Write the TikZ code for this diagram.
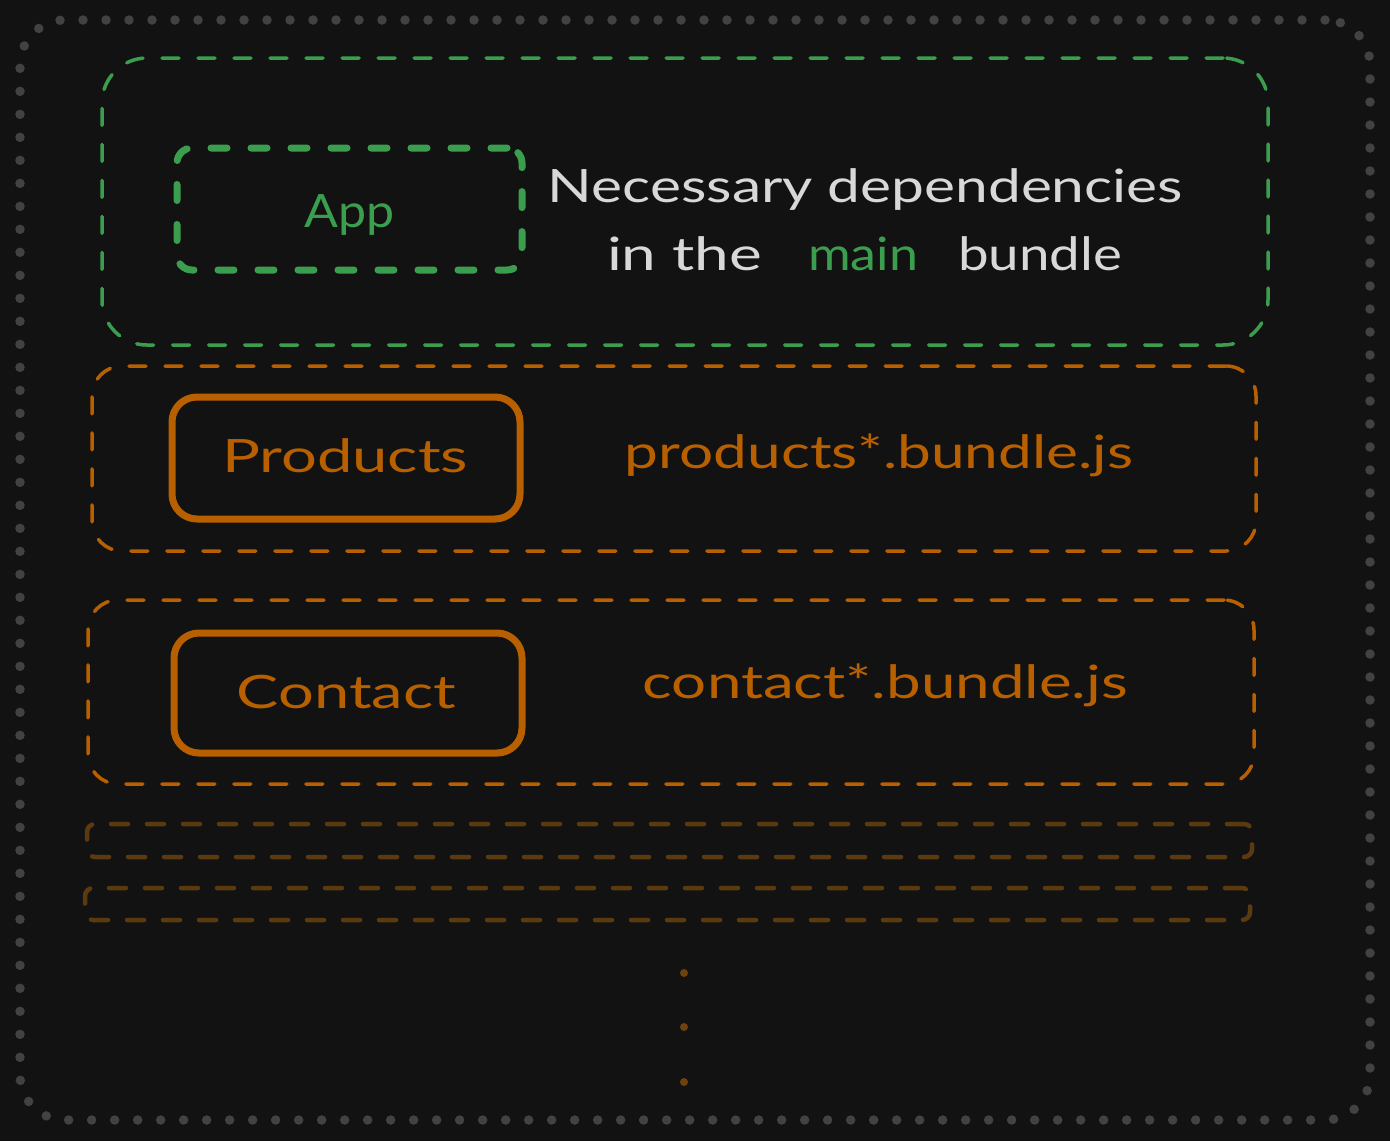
\documentclass[tikz,border=0pt]{standalone}
\usepackage{fontspec}
\setmainfont{Lato}
\usepackage{graphicx}
\definecolor{bg}{HTML}{121212}
\definecolor{dotgray}{HTML}{424242}
\definecolor{grn}{HTML}{3A9E4E}
\definecolor{org}{HTML}{B86000}
\definecolor{fade}{HTML}{5C3A10}
\definecolor{txt}{HTML}{D8D8D8}
\newcommand{\wtext}[2]{\resizebox{#1pt}{\height}{#2}}
\tikzset{
  outerbox/.style={draw=dotgray, line width=9.5pt, line cap=round, dash pattern=on 0pt off 23pt, rounded corners=45pt, inner sep=0pt},
  greenbox/.style={draw=grn, line width=3.5pt, line cap=round, dash pattern=on 17pt off 19pt, rounded corners=45pt, inner sep=0pt},
  appbox/.style={draw=grn, line width=7pt, line cap=round, dash pattern=on 16pt off 24pt, rounded corners=15pt, inner sep=0pt},
  orgbox/.style={draw=org, line width=3.5pt, line cap=round, dash pattern=on 17pt off 19pt, rounded corners=30pt, inner sep=0pt},
  solidbox/.style={draw=org, line width=7pt, rounded corners=25pt, inner sep=0pt},
  fadebox/.style={draw=fade, line width=4.5pt, line cap=round, dash pattern=on 17pt off 19pt, rounded corners=8pt, inner sep=0pt},
  lbl/.style={anchor=base, inner sep=0pt, font=\fontsize{46}{50}\selectfont},
  fdot/.style={fill=fade!80!org, draw=none, circle, minimum size=8pt, inner sep=0pt},
}
\begin{document}
\begin{tikzpicture}[x=1pt, y=-1pt]
\fill[bg] (0,0) rectangle (1390,1141);
\useasboundingbox (0,0) rectangle (1390,1141);
\node[outerbox, minimum width=1350pt, minimum height=1100pt] (outer) at (695,570) {};
\node[greenbox, minimum width=1166pt, minimum height=287pt] (main) at (685,201.5) {};
\node[appbox, minimum width=345pt, minimum height=122pt] (appb) at (349.5,209) {};
\node[lbl, text=grn] (app) at (350,227) {\wtext{90}{App}};
\node[lbl, text=txt] (nd) at (865.5,202) {\wtext{635}{Necessary dependencies}};
\node[lbl, text=txt] (inthe) at (684.5,270) {\wtext{155}{in the}};
\node[lbl, text=grn] (mainw) at (863,270) {\wtext{110}{main}};
\node[lbl, text=txt] (bundle) at (1040,270) {\wtext{164}{bundle}};
\node[orgbox, minimum width=1164pt, minimum height=185pt] (pgrp) at (674,458.5) {};
\node[solidbox, minimum width=348pt, minimum height=122pt] (prodb) at (346,458) {};
\node[lbl, text=org] (prod) at (345,472) {\wtext{246}{Products}};
\node[lbl, text=org] (pjs) at (879,468) {\wtext{508}{products*.bundle.js}};
\node[orgbox, minimum width=1166pt, minimum height=184pt] (cgrp) at (671,692) {};
\node[solidbox, minimum width=348pt, minimum height=120pt] (contb) at (348,693) {};
\node[lbl, text=org] (cont) at (346.5,708) {\wtext{219}{Contact}};
\node[lbl, text=org] (cjs) at (885.5,698) {\wtext{485}{contact*.bundle.js}};
\node[fadebox, minimum width=1165pt, minimum height=33pt] (f1) at (669.5,840.5) {};
\node[fadebox, minimum width=1165pt, minimum height=32pt] (f2) at (667.5,904) {};
\node[fdot] (d1) at (684,973) {};
\node[fdot] (d2) at (684,1027) {};
\node[fdot] (d3) at (684,1082) {};
\end{tikzpicture}
\end{document}
